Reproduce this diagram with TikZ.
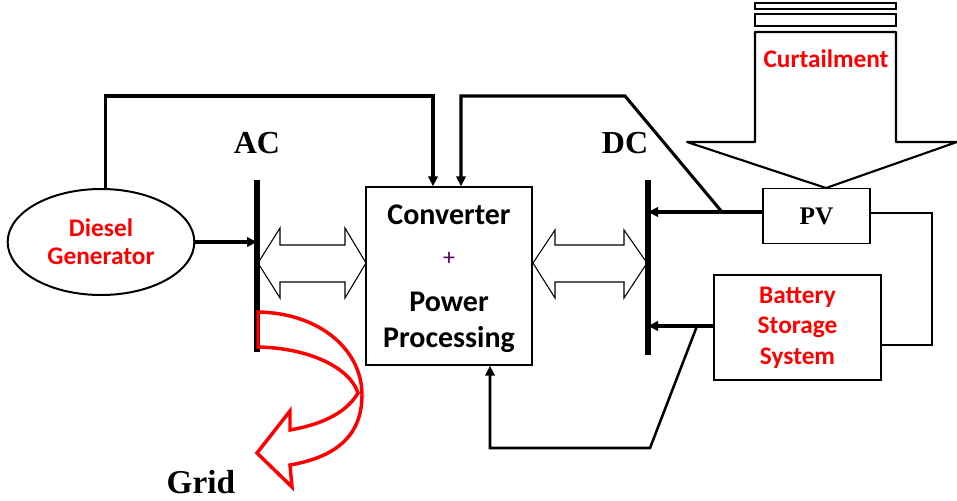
\documentclass[tikz,border=0pt]{standalone}
\usepackage{fontspec}
\setmainfont{Liberation Serif}
\newfontfamily\calfont{Carlito}
\usetikzlibrary{arrows.meta,shapes.geometric,calc}
\definecolor{txtred}{RGB}{255,0,0}
\definecolor{plusc}{RGB}{90,0,90}
\begin{document}
\begin{tikzpicture}[x=0.75pt,y=-0.75pt,
  thinbox/.style={draw,line width=1pt,inner sep=0pt},
  arr/.style={line width=2.3pt,-{Triangle[length=7.5pt,width=7pt]}},
  bus/.style={line width=4pt},
  thinline/.style={line width=1pt},
  hollow/.style={line width=0.8pt,line join=miter},
  redtxt/.style={text=txtred,font=\calfont\bfseries\fontsize{19}{23}\selectfont,align=center},
  cvtxt/.style={font=\calfont\bfseries\fontsize{22.5}{26}\selectfont},
  lbl/.style={font=\bfseries\fontsize{24}{28}\selectfont}
]
\useasboundingbox (0,0) rectangle (957,500);

% nodes
\node[thinbox,line width=1.5pt,ellipse,minimum width=140pt,minimum height=79.5pt,
      redtxt,font=\calfont\bfseries\fontsize{19}{21}\selectfont] (dg) at (101,242) {Diesel\\Generator};
\node[thinbox,minimum width=124.5pt,minimum height=133.5pt] (conv) at (449,276) {};
\node[cvtxt] (ct1) at (449,215) {Converter};
\node[text=plusc,font=\calfont\fontsize{18}{20}\selectfont] (ct2) at (449,259) {+};
\node[cvtxt] (ct3) at (449,302) {Power};
\node[cvtxt] (ct4) at (449,340) {Processing};
\node[thinbox,minimum width=80.25pt,minimum height=41.25pt,
      font=\bfseries\fontsize{19}{22}\selectfont] (pv) at (816.5,216) {PV};
\node[thinbox,minimum width=125.25pt,minimum height=78.75pt,redtxt] (bat) at (797.5,327.5) {Battery\\Storage\\System};

\node[lbl] (aclbl) at (257,143) {AC};
\node[lbl] (dclbl) at (625,143) {DC};
\node[font=\bfseries\fontsize{25}{28}\selectfont] (grid) at (201,482) {Grid};

% buses
\coordinate (ac1) at (257,180);
\coordinate (ac2) at (257,352);
\coordinate (dc1) at (648,180);
\coordinate (dc2) at (648,355);
\draw[bus] (ac1) -- (ac2);
\draw[bus] (dc1) -- (dc2);

% top control lines
\coordinate (t1) at (433,96);
\coordinate (t2) at (461,96);
\coordinate (t3) at (625,96);
\coordinate (j1) at (722,212);
\draw[arr] (dg.85) |- (t1) -- (t1 |- conv.north);
\draw[arr,line join=miter] (j1) -- (t3) -- (t2) -- (t2 |- conv.north);

% source arrows
\draw[arr] (dg.east) -- (dg.east -| ac1);
\draw[arr] ($(pv.west)+(0,-4)$) -- ($(pv.west -| dc1)+(0,-4)$);
\draw[arr] ($(bat.west)+(0,-1.5)$) -- ($(bat.west -| dc1)+(0,-1.5)$);

% PV - battery loop
\coordinate (r1) at (932,345);
\draw[thinline] ($(pv.east)+(0,-3)$) -| (r1) -- (r1 -| bat.east);

% battery to converter feedback
\coordinate (j2) at (697,326);
\coordinate (b1) at (650,448);
\coordinate (b2) at (490,448);
\draw[arr,line width=1.9pt] (j2) -- (b1) -- (b2) -- (b2 |- conv.south);

% hollow double arrows
\draw[hollow] (258,263) -- (280,228) -- (280,245) -- (345,245) -- (345,228) -- (366,263)
   -- (345,298) -- (345,282) -- (280,282) -- (280,298) -- cycle;
\draw[hollow] (533,263) -- (555,230) -- (555,245) -- (624,245) -- (624,230) -- (647,263)
   -- (624,298) -- (624,282) -- (555,282) -- (555,298) -- cycle;

% curtailment arrow
\draw[line width=1.6pt,line join=round] (755,32) -- (896,32) -- (896,142) -- (957,142)
   -- (826,188) -- (687,142) -- (755,142) -- cycle;
\draw[line width=1.3pt] (755,3) rectangle (896,9);
\draw[line width=1.3pt] (755,14) rectangle (896,26);
\node[redtxt] (curt) at (826,59) {Curtailment};

% red grid arrow
\draw[red,line width=2.6pt,line join=miter]
  (258,347) .. controls (310,348) and (350,368) .. (358,393)
  .. controls (345,415) and (318,425) .. (290,430)
  -- (290,411) -- (257,453) -- (292,487) -- (290,465)
  .. controls (330,458) and (362,440) .. (362,395)
  .. controls (362,350) and (320,313) .. (258,312) -- cycle;
\end{tikzpicture}
\end{document}
